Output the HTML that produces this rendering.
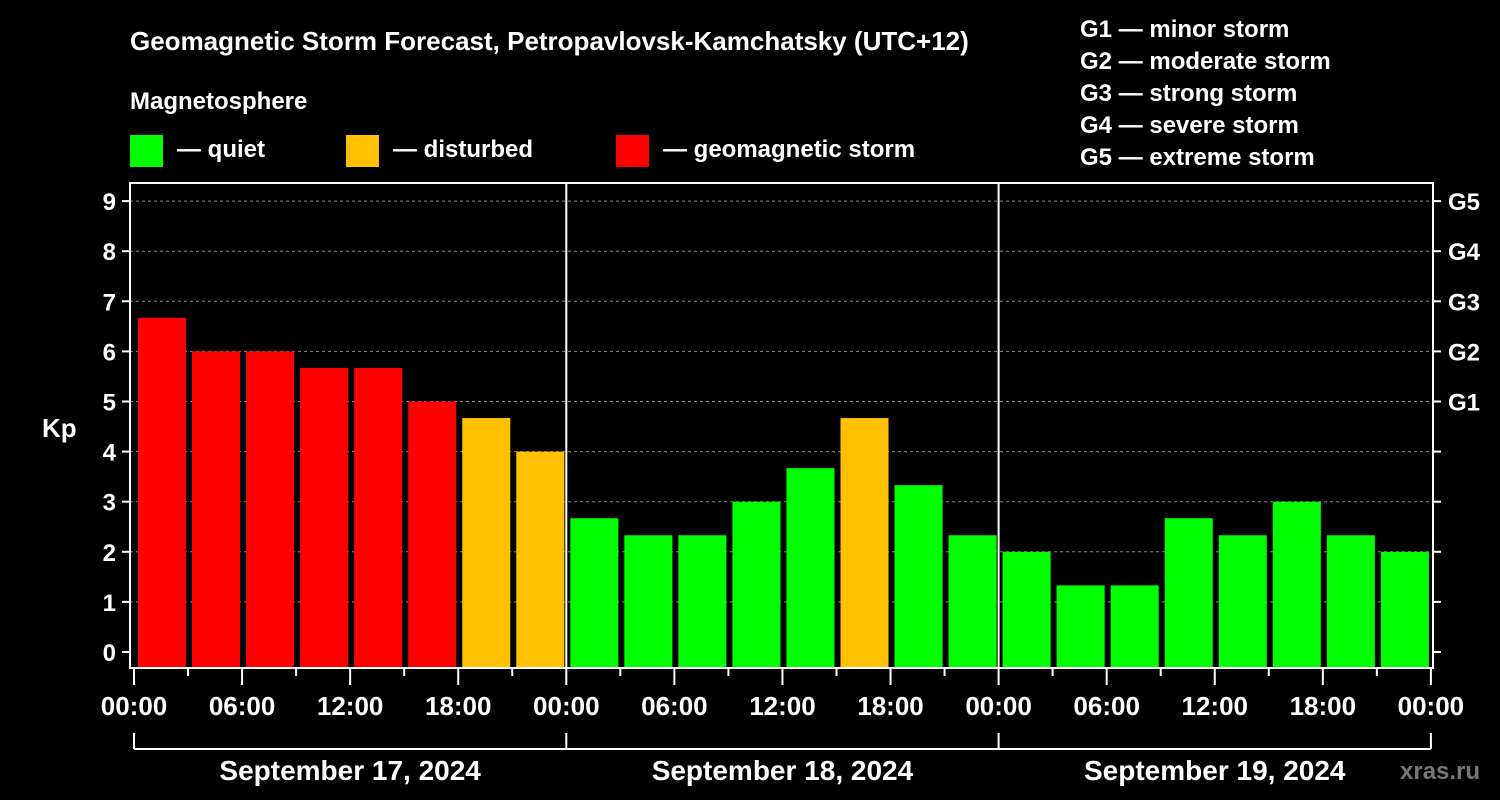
<!DOCTYPE html>
<html><head><meta charset="utf-8"><style>
body{margin:0;background:#000;}
svg{display:block;font-family:"Liberation Sans",Arial,sans-serif;font-weight:bold;}
</style></head><body>
<svg id="c" width="1500" height="800" viewBox="0 0 1500 800">
<rect width="1500" height="800" fill="#000"/>
<text x="130" y="50" fill="#fff" font-size="26">Geomagnetic Storm Forecast, Petropavlovsk-Kamchatsky (UTC+12)</text>
<text x="130" y="109" fill="#fff" font-size="24">Magnetosphere</text>
<g><rect x="130" y="135" width="33" height="32" fill="#00ff00"/><text x="177" y="157" fill="#fff" font-size="24">— quiet</text></g>
<g><rect x="346" y="135" width="33" height="32" fill="#ffc000"/><text x="393" y="157" fill="#fff" font-size="24">— disturbed</text></g>
<g><rect x="616" y="135" width="33" height="32" fill="#ff0000"/><text x="663" y="157" fill="#fff" font-size="24">— geomagnetic storm</text></g>
<g fill="#fff" font-size="24">
<text x="1080" y="37">G1 — minor storm</text>
<text x="1080" y="69">G2 — moderate storm</text>
<text x="1080" y="101">G3 — strong storm</text>
<text x="1080" y="133">G4 — severe storm</text>
<text x="1080" y="165">G5 — extreme storm</text>
</g>
<text x="42" y="437" fill="#fff" font-size="26">Kp</text>
<text x="1400" y="779" fill="#777" font-size="24">xras.ru</text>
<g id="plot"></g>
</svg>
<script>
const days = ["September 17, 2024","September 18, 2024","September 19, 2024"];
const timeLabels = ["00:00","06:00","12:00","18:00"];
const kpValues = [6.67,6,6,5.67,5.67,5,4.67,4, 2.67,2.33,2.33,3,3.67,4.67,3.33,2.33, 2,1.33,1.33,2.67,2.33,3,2.33,2];
const yTicks = [0,1,2,3,4,5,6,7,8,9];
const gLabels = ["G1","G2","G3","G4","G5"];
const NS="http://www.w3.org/2000/svg";
const g=document.getElementById('plot');
const X0=134, DAYW=432.3, L=130, R=1433, T=183, B=668;
const y=v=>652-50.1*v;
const xh=h=>X0+h/24*DAYW;
function el(t,a,p){const e=document.createElementNS(NS,t);for(const k in a)e.setAttribute(k,a[k]);(p||g).appendChild(e);return e;}
yTicks.forEach(v=>{
  if(v>0){const l=el('line',{x1:L,x2:R,y1:y(v),y2:y(v),stroke:'#888','stroke-dasharray':'3,3'});
  
  }
  el('line',{x1:L-8,x2:L,y1:y(v),y2:y(v),stroke:'#fff','stroke-width':2});
  el('line',{x1:R,x2:R+8,y1:y(v),y2:y(v),stroke:'#fff','stroke-width':2});
  const t=el('text',{x:L-14,y:y(v)+9,fill:'#fff','font-size':24,'text-anchor':'end'});t.textContent=v;
  
  
});
gLabels.forEach((s,i)=>{const t=el('text',{x:1448,y:y(5+i)+9,fill:'#fff','font-size':24});t.textContent=s;
  
  });
kpValues.forEach((v,i)=>{
  const col=v>=5?'#ff0000':(v>=4?'#ffc000':'#00ff00');
  const x=xh(i*3)+4;
  const r=el('rect',{x:x,y:y(v),width:DAYW/8-6,height:B-y(v),fill:col});
  
  
});
for(let d=1;d<days.length;d++) el('line',{x1:xh(d*24),x2:xh(d*24),y1:T,y2:B,stroke:'#fff','stroke-width':2});
el('rect',{x:L,y:T,width:R-L,height:B-T,fill:'none',stroke:'#fff','stroke-width':2});
for(let h=0;h<=days.length*24;h+=3){
  const major=h%6==0;
  el('line',{x1:xh(h),x2:xh(h),y1:B,y2:B+(major?17:8),stroke:'#fff','stroke-width':2});
  if(major){const t=el('text',{x:xh(h),y:715,fill:'#fff','font-size':26,'text-anchor':'middle'});t.textContent=timeLabels[(h%24)/6];
  
  }
}
el('line',{x1:xh(0),x2:xh(days.length*24),y1:749,y2:749,stroke:'#fff','stroke-width':2});
days.forEach((d,i)=>{
  el('line',{x1:xh(i*24),x2:xh(i*24),y1:733,y2:749,stroke:'#fff','stroke-width':2});
  const t=el('text',{x:xh(i*24+12),y:780,fill:'#fff','font-size':28,'text-anchor':'middle'});t.textContent=d;
  
  
});
el('line',{x1:xh(72),x2:xh(72),y1:733,y2:749,stroke:'#fff','stroke-width':2});
</script>
</body></html>
